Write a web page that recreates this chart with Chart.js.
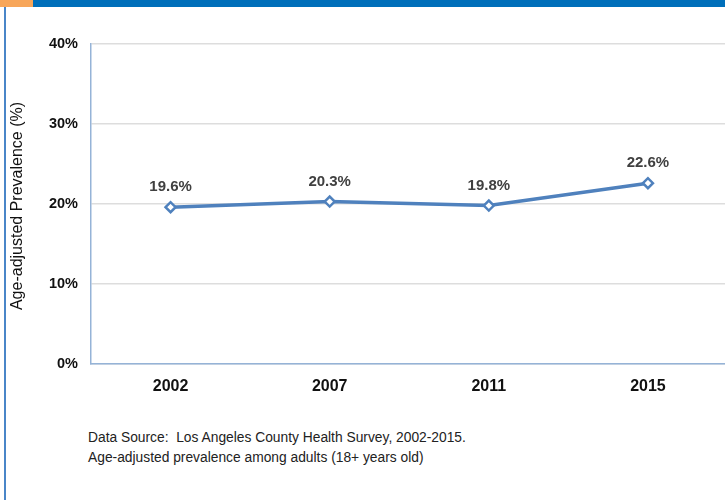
<!DOCTYPE html>
<html>
<head>
<meta charset="utf-8">
<script src="https://cdn.jsdelivr.net/npm/chart.js@4.4.1/dist/chart.umd.min.js"></script>
<style>
  html, body { margin: 0; padding: 0; background: #fff; overflow: hidden; }
  #page { position: relative; width: 725px; height: 500px; overflow: hidden; font-family: Arial, "Liberation Sans", sans-serif; }
  #topbar { position: absolute; left: 0; top: 0; width: 725px; height: 7px; background: #006FBA; }
  #tab { position: absolute; left: 0; top: 0; width: 33px; height: 7px; background: #F7A65A; }
  #edge { position: absolute; left: 4px; top: 7px; width: 2px; height: 493px; background: #4A86C8; }
  #wrap { position: absolute; left: 0; top: 0; width: 735px; height: 420px; }
  #note { position: absolute; left: 88px; top: 428px; font-size: 13.8px; line-height: 20px; color: #222; }
</style>
</head>
<body>
<div id="page">
  <div id="topbar"></div>
  <div id="tab"></div>
  <div id="edge"></div>
  <div id="wrap"><canvas id="chart" width="735" height="420"></canvas></div>
  <div id="note">Data Source:&nbsp; Los Angeles County Health Survey, 2002-2015.<br>Age-adjusted prevalence among adults (18+ years old)</div>
</div>
<script>
// chart values
const years = ['2002', '2007', '2011', '2015'];
const prevalence = [19.6, 20.3, 19.8, 22.6];
const yTicks = [0, 10, 20, 30, 40];
const yTitle = 'Age-adjusted Prevalence (%)';

const lineBlue = '#4F81BD';

// draw the value above each point, plus the rotated axis title
const valueLabels = {
  id: 'valueLabels',
  afterDatasetsDraw(chart) {
    const ctx = chart.ctx;
    const meta = chart.getDatasetMeta(0);
    ctx.save();
    ctx.font = 'bold 15px Arial, "Liberation Sans", sans-serif';
    ctx.fillStyle = '#404040';
    ctx.textAlign = 'center';
    ctx.textBaseline = 'middle';
    meta.data.forEach((pt, i) => {
      ctx.fillText(prevalence[i].toFixed(1) + '%', pt.x, pt.y - 20);
    });
    ctx.restore();

    const area = chart.chartArea;
    ctx.save();
    ctx.translate(18, (area.top + area.bottom) / 2 + 2);
    ctx.rotate(-Math.PI / 2);
    ctx.font = '16px Arial, "Liberation Sans", sans-serif';
    ctx.fillStyle = '#111';
    ctx.textAlign = 'center';
    ctx.textBaseline = 'middle';
    ctx.fillText(yTitle, 0, 0);
    ctx.restore();
  }
};

new Chart(document.getElementById('chart'), {
  type: 'line',
  data: {
    labels: years,
    datasets: [{
      data: prevalence,
      borderColor: lineBlue,
      borderWidth: 3.5,
      tension: 0,
      pointStyle: 'rectRot',
      pointRadius: 5,
      pointBackgroundColor: '#fff',
      pointBorderColor: lineBlue,
      pointBorderWidth: 2.5
    }]
  },
  options: {
    responsive: false,
    animation: false,
    layout: { padding: { top: 44, right: 0, left: 0, bottom: 0 } },
    plugins: { legend: { display: false }, tooltip: { enabled: false } },
    scales: {
      x: {
        offset: true,
        grid: { display: false },
        border: { display: true, color: '#95B3D7', width: 1.5 },
        ticks: {
          color: '#111',
          padding: 5,
          font: { family: 'Arial, "Liberation Sans", sans-serif', size: 16, weight: 'bold' }
        },
        afterFit(scale) { scale.height = 56; }
      },
      y: {
        min: 0,
        max: 40,
        afterBuildTicks(scale) { scale.ticks = yTicks.map(v => ({ value: v })); },
        grid: { color: '#DDDDDD', lineWidth: 1.5, drawTicks: false },
        border: { display: true, color: '#95B3D7', width: 1.5 },
        ticks: {
          color: '#111',
          padding: 13,
          callback: v => v + '%',
          font: { family: 'Arial, "Liberation Sans", sans-serif', size: 14.5, weight: 'bold' }
        },
        afterFit(scale) { scale.width = 91; }
      }
    }
  },
  plugins: [valueLabels]
});
</script>
</body>
</html>
